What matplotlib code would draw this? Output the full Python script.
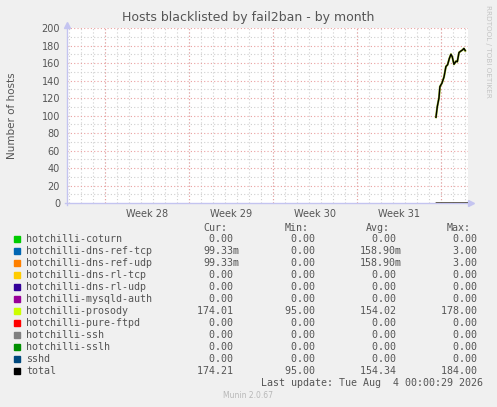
import matplotlib
matplotlib.use('Agg')
import numpy as np
import matplotlib.pyplot as plt

W, H = 497, 407

# time axis in days since graph start
week_labels = ['Week 28', 'Week 29', 'Week 30', 'Week 31']
week_starts = [3.17, 10.17, 17.17, 24.17, 31.17]
x_end = 33.42

total_days = [30.75, 30.86, 31.0, 31.08, 31.25, 31.42, 31.58, 31.72, 31.86, 32.0,
              32.11, 32.25, 32.42, 32.53, 32.67, 32.81, 32.97, 33.08, 33.19]
total_vals = [98, 110, 120, 133, 137, 144, 156, 158, 165, 170,
              167, 158.5, 162, 161.5, 172, 173.5, 175, 176.7, 174.2]
prosody_vals = [98, 110, 120, 133, 137, 144, 156, 158, 165, 170,
                167, 158.5, 162, 161.5, 172, 173.5, 175, 176.5, 174.0]
zero_days = [30.75, 33.4]
dnsref_vals = [0.1, 0.1]
zero_vals = [0.0, 0.0]

names = ['hotchilli-coturn', 'hotchilli-dns-ref-tcp', 'hotchilli-dns-ref-udp',
         'hotchilli-dns-rl-tcp', 'hotchilli-dns-rl-udp', 'hotchilli-mysqld-auth',
         'hotchilli-prosody', 'hotchilli-pure-ftpd', 'hotchilli-ssh',
         'hotchilli-sslh', 'sshd', 'total']
colors = ['#00CC00', '#0066B3', '#FF8000', '#FFCC00', '#330099', '#990099',
          '#CCFF00', '#FF0000', '#808080', '#008F00', '#00487D', '#000000']
cur = ['0.00 ', '99.33m', '99.33m', '0.00 ', '0.00 ', '0.00 ', '174.01 ',
       '0.00 ', '0.00 ', '0.00 ', '0.00 ', '174.21 ']
mins = ['0.00 ', '0.00 ', '0.00 ', '0.00 ', '0.00 ', '0.00 ', '95.00 ',
        '0.00 ', '0.00 ', '0.00 ', '0.00 ', '95.00 ']
avgs = ['0.00 ', '158.90m', '158.90m', '0.00 ', '0.00 ', '0.00 ', '154.02 ',
        '0.00 ', '0.00 ', '0.00 ', '0.00 ', '154.34 ']
maxs = ['0.00 ', '3.00 ', '3.00 ', '0.00 ', '0.00 ', '0.00 ', '178.00 ',
        '0.00 ', '0.00 ', '0.00 ', '0.00 ', '184.00 ']

txt = '#555555'
fig = plt.figure(figsize=(W / 100, H / 100), dpi=100, facecolor='#F0F0F0')


def fx(x):
    return x / W


def fy(y):
    return 1 - y / H


# plot area: x 67..468, y 28..203
ax = fig.add_axes([fx(67), fy(203), (468 - 67) / W, (203 - 28) / H])
ax.set_facecolor('white')
ax.set_xlim(0, x_end)
ax.set_ylim(0, 200)
for s in ax.spines.values():
    s.set_visible(False)

# grid
for d in np.arange(0.17, x_end, 1.0):
    ax.axvline(d, color='#cfcfcf', lw=0.8, ls=(0, (1, 2)), zorder=1)
for d in week_starts:
    ax.axvline(d, color='#eaa0a0', lw=0.8, ls=(0, (1, 2)), zorder=1.5)
for v in range(10, 200, 20):
    ax.axhline(v, color='#cfcfcf', lw=0.8, ls=(0, (1, 2)), zorder=1)
for v in range(20, 201, 20):
    ax.axhline(v, color='#eaa0a0', lw=0.8, ls=(0, (1, 2)), zorder=1.5)

ax.set_yticks(range(0, 201, 20))
ax.set_xticks([s + 3.5 for s in week_starts[:4]])
ax.set_xticklabels(week_labels)
ax.tick_params(axis='both', length=0, labelsize=7, labelcolor=txt)
ax.tick_params(axis='y', pad=5)
ax.tick_params(axis='x', pad=4)

# axis lines with arrows
ax.plot([0, 0], [-2, 202], color='#c4c4f0', lw=1, clip_on=False, zorder=3)
ax.plot([-0.2, x_end + 0.1], [0, 0], color='#c4c4f0', lw=1, clip_on=False, zorder=3)
ax.plot([0], [204], marker='^', color='#c4c4f0', ms=5, clip_on=False, zorder=3)
ax.plot([x_end + 0.25], [0], marker='>', color='#c4c4f0', ms=5, clip_on=False, zorder=3)

# series
for i, n in enumerate(names):
    if n == 'hotchilli-prosody':
        ax.plot(total_days, prosody_vals, color='#9fbf20', lw=1.5, zorder=5)
    elif n == 'total':
        ax.plot(total_days, total_vals, color=colors[i], lw=1.0, zorder=6)
    elif 'dns-ref' in n:
        ax.plot(zero_days, dnsref_vals, color=colors[i], lw=1, zorder=4)
    else:
        ax.plot(zero_days, zero_vals, color=colors[i], lw=1, zorder=4)

fig.text(fx(248), fy(18), 'Hosts blacklisted by fail2ban - by month',
         ha='center', va='center', fontsize=9, color=txt)
fig.text(fx(12), fy(116), 'Number of hosts', rotation=90,
         ha='center', va='center', fontsize=7.5, color=txt)
fig.text(fx(488), fy(5), 'RRDTOOL / TOBI OETIKER', rotation=270,
         ha='center', va='top', fontsize=5.2, color='#c4c4c4')

# legend table
mono = 'DejaVu Sans Mono'
lfs = 7.2
col_right = [233, 315, 396, 477]
headers = ['Cur:', 'Min:', 'Avg:', 'Max:']
for r, h in zip(col_right, headers):
    fig.text(fx(r - 30), fy(228), h, ha='left', va='center',
             family=mono, fontsize=lfs, color=txt)
for i, n in enumerate(names):
    y = 239 + 12 * i
    fig.patches.append(plt.Rectangle((fx(14), fy(y + 3)), 6 / W, 6 / H,
                                     transform=fig.transFigure,
                                     color=colors[i], figure=fig))
    fig.text(fx(26), fy(y), n, ha='left', va='center',
             family=mono, fontsize=lfs, color=txt)
    for r, col in zip(col_right, [cur, mins, avgs, maxs]):
        fig.text(fx(r + 6), fy(y), col[i],
                 ha='right', va='center', family=mono, fontsize=lfs, color=txt)

fig.text(fx(483), fy(383), 'Last update: Tue Aug  4 00:00:29 2026',
         ha='right', va='center', family=mono, fontsize=lfs, color=txt)
fig.text(fx(248), fy(395), 'Munin 2.0.67', ha='center', va='center',
         fontsize=5.5, color='#b8b8b8')

plt.savefig('out.png', dpi=100, facecolor=fig.get_facecolor())
